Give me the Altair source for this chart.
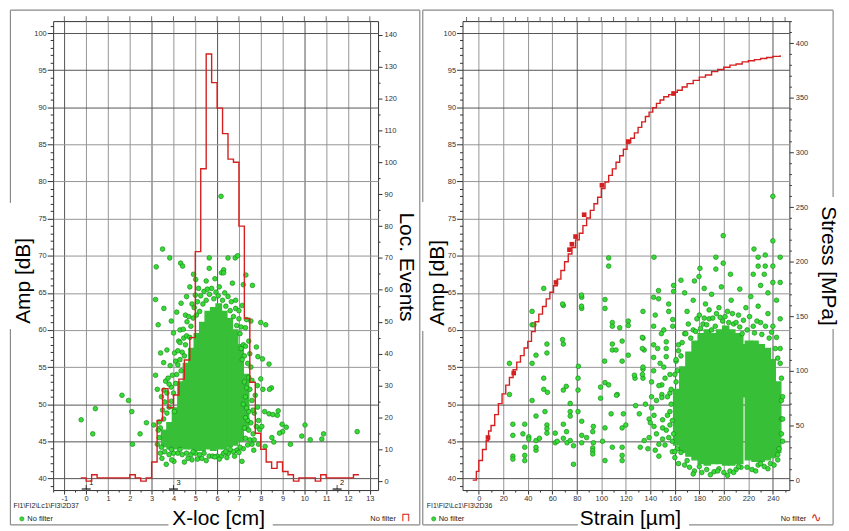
import altair as alt
import pandas as pd

FONT = "Liberation Sans"
GREEN_FILL = "#36dc36"
GREEN_EDGE = "#1b8a1b"
GREEN_CORE = "#38bf38"
RED = "#d42020"
FRAME = "#8a8a8a"

# ---------------- Left panel: located events histogram (Loc. Events vs X-loc) ----------------
loc_bin_x = [-0.25, 0.0, 0.25, 0.5, 0.75, 1.0, 1.25, 1.5, 1.75, 2.0, 2.25, 2.5, 2.75,
             3.0, 3.25, 3.5, 3.75, 4.0, 4.25, 4.5, 4.75, 5.0, 5.25, 5.5, 5.75, 6.0,
             6.25, 6.5, 6.75, 7.0, 7.25, 7.5, 7.75, 8.0, 8.25, 8.5, 8.75, 9.0, 9.25,
             9.5, 9.75, 10.0, 10.25, 10.5, 10.75, 11.0, 11.25, 11.5, 11.75, 12.0, 12.25, 12.5]
loc_events = [1, 0, 2, 1, 1, 1, 1, 1, 1, 2, 1, 0, 1,
              6, 19, 29, 23, 27, 32, 38, 45, 72, 98, 134, 125, 117,
              109, 101, 100, 80, 51, 31, 15, 10, 6, 4, 6, 3, 2,
              0, 1, 1, 1, 0, 2, 1, 1, 1, 1, 1, 2, 2]

# dense core of the left cloud (column start, column end, amp low, amp high)
left_core_x0 = [3.45, 3.70, 3.95, 4.20, 4.45, 4.70, 4.95, 5.20, 5.45, 5.70, 5.95, 6.20, 6.45, 6.70, 6.95, 7.20]
left_core_x1 = [3.70, 3.95, 4.20, 4.45, 4.70, 4.95, 5.20, 5.45, 5.70, 5.95, 6.20, 6.45, 6.70, 6.95, 7.20, 7.45]
left_core_lo = [44.3, 44.0, 44.0, 44.2, 44.0, 44.0, 43.8, 43.8, 44.0, 43.8, 44.0, 44.0, 44.3, 44.5, 45.0, 46.5]
left_core_hi = [46.5, 47.5, 49.5, 53.0, 55.5, 57.5, 59.5, 61.0, 62.5, 63.0, 63.5, 62.5, 61.5, 60.0, 58.0, 54.0]

# individual hits (x-loc cm, amplitude dB)
left_points = [
    (-0.23, 47.9), (0.30, 46.0), (0.42, 49.4), (1.64, 51.2), (1.94, 50.5), (2.09, 49.0), (2.12, 44.6),
    (2.47, 46.0), (2.76, 47.5), (3.10, 47.2), (6.18, 78.0), (3.50, 70.9), (3.83, 69.7), (4.33, 69.0),
    (4.42, 68.6), (3.21, 68.5), (5.64, 69.7), (6.50, 69.7), (6.83, 69.7), (6.94, 70.0), (5.64, 68.3),
    (6.30, 68.1), (3.18, 64.1), (3.56, 62.9), (3.30, 60.7), (3.41, 56.9), (3.18, 53.9), (3.64, 53.1),
    (3.26, 52.0), (3.56, 51.9), (4.92, 67.5), (5.02, 66.8), (6.20, 67.7), (6.30, 67.7), (7.32, 67.4),
    (7.20, 66.1), (7.62, 66.0), (5.50, 66.6), (5.90, 66.9), (6.70, 66.3), (8.00, 61.0), (8.23, 60.7),
    (7.35, 61.4), (7.80, 57.7), (8.08, 56.1), (7.87, 56.4), (8.38, 55.4), (8.00, 53.4), (8.49, 52.2),
    (8.10, 52.0), (8.40, 52.0), (8.18, 49.0), (8.38, 48.7), (8.56, 48.6), (8.76, 48.5), (8.80, 49.1),
    (8.98, 47.3), (9.17, 46.9), (9.00, 46.3), (8.51, 45.5), (8.86, 46.1), (9.36, 44.6), (10.03, 47.2),
    (9.88, 45.7), (10.27, 45.2), (10.80, 45.3), (10.88, 46.0), (12.42, 46.3), (8.20, 44.3), (8.60, 44.9),
    (7.14, 42.3), (4.85, 42.5), (4.67, 42.7), (4.02, 42.3), (3.67, 41.9), (3.47, 42.7), (3.92, 42.5),
    (3.26, 44.6), (5.64, 43.0), (5.80, 43.0), (6.00, 43.0), (6.20, 43.0), (6.30, 43.4), (6.52, 43.4),
    (7.68, 43.8), (7.60, 44.6), (4.62, 61.1), (4.24, 58.5), (4.47, 58.9), (3.90, 52.3), (4.10, 55.8),
    (3.75, 53.5), (4.30, 60.0),
    (3.35, 45.5), (3.40, 46.8), (3.45, 44.2), (3.55, 48.0), (3.70, 48.8), (3.80, 49.6), (3.90, 50.4),
    (4.00, 51.5), (4.05, 49.0), (4.10, 52.8), (4.15, 54.0), (4.20, 55.3), (4.30, 56.0), (4.35, 54.5),
    (4.40, 57.0), (4.50, 56.5), (4.55, 58.0), (4.60, 59.2), (4.75, 59.0), (4.80, 60.5), (4.90, 61.6),
    (4.95, 63.0), (5.05, 62.0), (5.10, 63.8), (5.20, 62.5), (5.25, 64.6), (5.35, 63.5), (5.40, 65.2),
    (5.50, 64.0), (5.55, 65.5), (5.65, 64.8), (5.75, 65.6), (5.85, 64.2), (5.95, 65.1), (6.05, 64.6),
    (6.10, 65.8), (6.25, 64.0), (6.35, 65.0), (6.40, 63.2), (6.50, 64.5), (6.60, 62.6), (6.65, 63.8),
    (6.75, 61.8), (6.85, 62.9), (6.90, 60.6), (7.00, 61.5), (7.05, 59.5), (7.10, 60.4), (7.20, 58.0),
    (7.25, 56.5), (7.30, 57.8), (7.40, 55.5), (7.45, 53.6), (7.50, 52.0), (7.55, 55.0), (7.60, 50.5),
    (7.45, 49.0), (7.55, 47.5), (7.65, 46.0), (7.70, 48.8), (7.75, 51.2), (7.85, 49.6), (7.90, 47.8),
    (7.95, 46.6), (8.05, 47.0), (7.50, 45.2), (7.40, 44.5), (7.30, 45.4), (7.20, 44.0), (7.05, 44.2),
    (6.90, 43.8), (6.75, 43.6), (6.60, 43.9), (6.40, 43.6), (5.40, 43.4), (5.20, 43.2), (5.00, 43.4),
    (4.80, 43.2), (4.60, 43.4), (4.40, 43.2), (4.20, 43.4), (4.00, 43.4), (3.80, 43.2), (3.60, 43.6),
    (3.40, 43.4),
    (7.25, 53.0), (7.30, 51.0), (7.35, 49.5), (7.40, 47.8), (7.45, 46.5), (7.30, 48.2), (7.20, 50.0),
    (7.25, 46.8), (7.35, 52.2), (7.50, 56.8), (7.60, 53.2), (7.65, 49.2), (7.70, 45.2), (7.80, 47.0),
    (7.85, 52.5), (7.90, 44.6), (7.15, 56.0), (7.10, 57.5), (7.45, 58.5), (7.30, 60.3), (7.55, 61.2),
    (7.00, 62.6), (6.85, 64.0), (7.15, 63.3),
    (3.30, 46.5), (3.35, 47.6), (3.50, 49.2), (3.60, 50.3), (3.45, 51.0), (3.70, 51.5), (3.80, 52.7),
    (3.95, 53.9), (4.05, 56.9), (4.20, 57.2), (4.30, 58.3), (4.45, 60.1), (4.55, 62.0), (4.70, 61.8),
    (4.85, 63.5), (5.00, 64.7), (5.15, 65.6), (3.85, 55.2), (3.55, 55.6), (3.70, 57.3), (4.00, 59.6),
    (3.90, 61.2), (4.15, 62.4), (4.35, 63.6), (4.60, 64.5), (4.75, 65.8),
    (3.90, 43.9), (4.30, 43.9), (4.90, 43.6), (5.30, 42.7), (5.50, 42.4), (5.90, 42.9), (6.10, 42.6),
    (6.45, 42.8), (6.80, 43.0), (7.00, 43.5), (4.50, 42.2), (5.10, 42.6),
]

sensor_x = [0.0, 4.0, 11.5]
sensor_label = ["1", "3", "2"]

left_x_ticks = [-1, 0, 1, 2, 3, 4, 5, 6, 7, 8, 9, 10, 11, 12, 13]

# ---------------- Right panel: stress vs strain ----------------
curve_strain = [-5, -2, 0, 3, 6, 8, 10, 13, 16, 19, 22, 25, 28, 31, 34, 37, 40, 43, 46, 49, 52, 55,
                58, 61, 64, 67, 70, 73, 76, 79, 82, 85, 88, 91, 94, 97, 100, 103, 106, 109, 112,
                115, 118, 121, 124, 127, 130, 133, 136, 139, 142, 145, 148, 151, 155, 158, 162,
                166, 170, 175, 180, 185, 190, 195, 200, 205, 210, 215, 220, 225, 230, 235, 240, 246]
curve_stress = [0, 8, 18, 28, 36, 45, 50, 60, 70, 79, 87, 94, 101, 108, 114, 121, 127, 136, 145, 152,
                159, 166, 172, 178, 184, 192, 200, 207, 213, 220, 226, 233, 240, 247, 253, 259, 267,
                273, 279, 285, 291, 297, 303, 309, 313, 318, 323, 328, 333, 337, 341, 345, 348, 351,
                353, 355, 357, 360, 363, 366, 369, 371, 374, 376, 378, 380, 381, 383, 384, 385, 386,
                387, 388, 389]
blob_strain = [7.5, 28.5, 63, 74, 76, 79, 86, 100.5, 122, 159]
blob_stress = [39, 98, 181, 211, 216, 223, 243, 270, 310, 354]

right_core_x0 = [159, 164, 169, 174, 179, 184, 189, 194, 199, 204, 209, 215.5, 217.5, 223, 228, 233, 238, 242]
right_core_x1 = [164, 169, 174, 179, 184, 189, 194, 199, 204, 209, 215.5, 217.5, 223, 228, 233, 238, 242, 246.5]
right_core_lo = [44.5, 43.5, 43.0, 42.5, 42.0, 41.8, 42.0, 42.0, 41.8, 41.8, 42.0, 51.0, 42.5, 42.3, 42.3, 42.5, 42.8, 43.5]
right_core_hi = [52.0, 55.0, 57.0, 58.5, 59.5, 60.0, 59.5, 60.0, 60.5, 60.0, 59.5, 58.0, 58.5, 58.5, 58.0, 57.5, 56.0, 53.0]

right_points = [
    (106, 69.7), (106, 68.6), (53, 65.6), (84, 64.4), (84, 62.9), (103, 64.1), (103, 62.9), (69, 63.3),
    (43.5, 62.5), (134, 62.5), (43.5, 60.7), (45, 60.7), (109, 61.0), (109, 60.5), (122, 61.2), (122, 60.6),
    (134, 58.9), (55.6, 58.1), (55.6, 56.9), (69, 58.1), (109, 58.1), (109, 57.3), (112, 57.3), (117, 58.5),
    (135, 57.3), (46.7, 56.6), (25, 55.5), (43.5, 55.5), (102.7, 55.8), (117, 55.8), (122, 56.6), (81.3, 55.1),
    (53, 53.5), (81, 53.5), (127.5, 53.5), (134, 53.5), (134, 54.7), (25, 51.3), (53, 52.0), (56, 51.6),
    (69, 51.9), (81, 51.9), (99.4, 52.3), (99.4, 50.8), (103, 52.9), (106, 52.6), (113, 51.3), (43.5, 50.5),
    (74.6, 50.1), (74.6, 49.0), (74.6, 48.4), (54, 49.0), (81, 49.0), (108, 48.7), (118, 48.7), (128, 49.8),
    (131, 48.7), (27.8, 47.3), (37.5, 47.3), (27.8, 45.8), (46.7, 48.4), (55.6, 47.2), (55.6, 46.7),
    (55.6, 46.1), (62.4, 46.1), (69, 47.3), (71.6, 46.3), (84, 47.7), (93.5, 47.0), (93, 46.3), (103, 46.8),
    (117, 46.8), (120, 47.2), (40.8, 45.6), (40.8, 45.3), (46.7, 45.1), (49.5, 45.4), (46.7, 43.8),
    (62.4, 44.8), (69, 45.4), (72, 44.8), (74.6, 45.1), (77.3, 44.4), (84, 44.8), (84, 45.8), (93.5, 44.8),
    (93, 44.1), (93, 43.7), (93, 43.3), (37.5, 44.2), (37.5, 43.1), (37.5, 42.4), (27.8, 43.0), (27.8, 42.6),
    (46.7, 44.2), (77.3, 41.9), (103, 42.4), (109, 44.2), (117, 44.2), (117, 43.1), (117, 42.4), (131.8, 44.2),
    (135, 45.1), (88, 45.5), (64, 45.0), (101, 45.0), (36, 46.0), (115, 60.3), (112.4, 51.2), (127, 53.9),
    (71.4, 52.4), (83.8, 64.7), (83.8, 63.2), (68.4, 63.5), (68.4, 58.7),
    (142.7, 64.4), (146.7, 65.3), (155, 63.5), (155, 62.5), (158.3, 61.4), (158.3, 60.5), (153, 58.4),
    (153, 57.5), (153, 56.4), (149.4, 52.6), (149.4, 51.3), (149.4, 50.9), (150, 47.9), (150, 46.8),
    (150, 45.3), (143, 69.8), (146.8, 64.2), (133.5, 59.0), (133.5, 57.5), (134, 55.0), (133.5, 54.0),
    (142.7, 60.5), (142.7, 58.0), (142.7, 56.3), (142.7, 54.5), (141, 53.0), (141, 51.0), (141, 49.5),
    (143, 48.5), (143, 47.0), (145, 46.0), (139, 45.5), (147, 44.6), (147, 43.0), (144, 43.8), (151, 60.0),
    (151, 55.0), (156, 54.0), (156, 51.5), (156, 49.0), (156, 47.2), (158, 45.0), (158, 43.6), (145, 50.5),
    (147, 52.5), (139, 48.0), (136, 50.0), (152, 53.5), (154, 48.5), (152, 44.5), (148, 55.5), (146, 57.5),
    (149, 59.5), (144, 62.0), (140, 47.5), (138, 44.0),
    (240, 78.0), (199.5, 72.7), (240, 72.0), (224.6, 70.9), (233.8, 70.1), (193.5, 69.8), (228, 69.8),
    (246, 69.8), (199.5, 69.0), (228, 68.6), (233.8, 68.6), (240, 68.6), (180.5, 68.3), (193.5, 68.2),
    (179.7, 67.2), (205.4, 67.5), (224, 67.5), (233, 67.5), (240, 66.4), (246, 66.4), (159, 65.2),
    (165, 66.7), (176, 66.6), (184, 65.6), (168, 65.0), (159, 66.0), (230, 66.0), (236, 65.0), (213, 65.5),
    (198, 65.8), (190, 64.8), (185, 63.5), (175, 64.0), (206, 64.0), (222, 64.5), (243, 64.0), (228, 63.2),
    (196, 63.0), (170, 62.5), (180, 62.0), (188, 61.5), (203, 62.5), (212, 62.0), (218, 63.0), (236, 62.2),
    (246, 61.5), (240, 60.5), (230, 61.0), (224, 60.5), (208, 60.8), (199, 61.2), (193, 60.5), (183, 60.8),
    (175, 60.0), (168, 59.5), (163, 58.0), (165, 56.5), (162, 54.5), (161, 53.0), (190, 60.0), (215, 59.5),
    (243, 59.0), (246, 57.5), (246, 55.5), (247, 53.5), (247, 50.5), (247, 48.0), (247, 46.0), (245, 44.0),
    (244, 42.5), (160, 42.8), (163, 42.0), (168, 41.8), (172, 41.5), (176, 41.0), (182, 40.8), (186, 41.2),
    (192, 40.9), (196, 41.3), (200, 40.8), (205, 41.0), (210, 41.2), (214, 41.5), (219, 41.5), (223, 41.2),
    (228, 41.8), (233, 41.6), (238, 42.0), (241, 41.8), (175, 40.6), (189, 40.5), (203, 40.4), (208, 40.8),
    (226, 41.0), (165, 43.5), (162, 44.0),
    (161, 55.8), (163, 57.2), (166, 58.3), (169, 59.5), (171, 60.8), (173, 58.9), (177, 59.8), (178, 61.5),
    (181, 60.2), (184, 61.6), (186, 60.7), (188, 62.7), (191, 61.6), (194, 62.2), (197, 61.7), (201, 61.8),
    (204, 61.0), (207, 62.2), (210, 61.0), (213, 60.4), (216, 61.3), (219, 60.0), (221, 61.8), (225, 59.6),
    (227, 61.2), (231, 59.4), (234, 60.5), (237, 58.9), (239, 59.7), (242, 57.5), (244, 56.2), (248, 51.0),
    (248, 48.0), (248, 45.0),
    (157, 52.0), (157, 50.0), (158, 47.8), (159, 46.0), (160, 54.0), (161, 56.0), (155, 45.5), (153, 46.5),
    (154, 51.0), (160, 43.6),
    (170, 42.4), (180, 41.6), (195, 41.0), (212, 41.6), (230, 42.0), (236, 41.3), (244, 43.2),
]

right_x_ticks = [-10, 0, 10, 20, 30, 40, 50, 60, 70, 80, 90, 100, 110, 120, 130, 140, 150, 160, 170,
                 180, 190, 200, 210, 220, 230, 240, 250]

# ---------------- helpers ----------------
ONE = alt.Data(values=[{"k": 0}])
AMP_DOMAIN = [38.43, 101.61]
AMP_VALUES = list(range(39, 102))
W_L, W_R, H = 327, 329, 472
GRID_DARK, GRID_LIGHT = "#555555", "#959595"


def cond(test, a, b):
    return {"condition": {"test": test, "value": a}, "value": b}


def amp_axis(tx, ty):
    return alt.Axis(
        values=AMP_VALUES, labelExpr="datum.value % 5 === 0 ? '' + datum.value : ''",
        labelFont=FONT, labelFontSize=7.5, labelColor="#333", labelPadding=1,
        labelOverlap=False, labelFlush=False, domain=False,
        tickColor="#333", tickSize=cond("datum.value % 5 === 0", 6, 3),
        grid=True, gridOpacity=cond("datum.value % 5 === 0", 1, 0),
        gridColor=cond("indexof([40,45,50,90,95,100], datum.value) >= 0", GRID_DARK, GRID_LIGHT),
        title="Amp [dB]", titleFont=FONT, titleFontSize=21, titleFontWeight="normal",
        titleColor="#000", titleX=tx, titleY=ty, titleAngle=270, titleAlign="center",
        titleBaseline="middle")


def right_axis(values, step, title, tx, ty):
    return alt.Axis(
        orient="right", values=values,
        labelExpr=f"datum.value % {step} === 0 ? '' + datum.value : ''",
        labelFont=FONT, labelFontSize=7.5, labelColor="#333", labelPadding=2,
        labelOverlap=False, labelFlush=False, domain=False, grid=False,
        tickColor="#333", tickSize=cond(f"datum.value % {step} === 0", 4, 2),
        title=title, titleFont=FONT, titleFontSize=21, titleFontWeight="normal",
        titleColor="#000", titleX=tx, titleY=ty, titleAngle=90, titleAlign="center",
        titleBaseline="middle")


def x_axis(values, step, dark, title, tx):
    return alt.Axis(
        values=values, labelExpr=f"datum.value % {step} === 0 ? '' + datum.value : ''",
        labelFont=FONT, labelFontSize=7.5, labelColor="#333", labelPadding=1,
        labelOverlap=False, labelFlush=False, domain=False,
        tickColor="#333", tickSize=cond(f"datum.value % {step} === 0", 4, 2),
        grid=True, gridOpacity=cond(f"datum.value % {step} === 0", 1, 0),
        gridColor=cond(f"indexof({dark}, datum.value) >= 0", GRID_DARK, GRID_LIGHT),
        title=title, titleFont=FONT, titleFontSize=21, titleFontWeight="normal",
        titleColor="#000", titleX=tx, titleY=29, titleAngle=0, titleAlign="center",
        titleBaseline="middle")


def hrule(x1, x2, y):
    return alt.Chart(ONE).mark_rule(color=FRAME, strokeWidth=1.2).encode(
        x=alt.value(x1), x2=alt.value(x2), y=alt.value(y))


def vrule(x, y1, y2):
    return alt.Chart(ONE).mark_rule(color=FRAME, strokeWidth=1.2).encode(
        x=alt.value(x), y=alt.value(y1), y2=alt.value(y2))


def label(txt, x, y, size=7.5, align="left", color="#222", font=FONT):
    return alt.Chart(ONE).mark_text(align=align, baseline="middle", fontSize=size,
                                    font=font, color=color).encode(
        x=alt.value(x), y=alt.value(y), text=alt.value(txt))


def legend_dot(x, y):
    return alt.Chart(ONE).mark_point(filled=True, fill=GREEN_FILL, stroke=GREEN_EDGE,
                                     strokeWidth=0.6, size=18, opacity=1).encode(
        x=alt.value(x), y=alt.value(y))


# ---------------- left panel ----------------
LX_DOMAIN = [-1.514, 13.377]
LX_VALUES = [v / 2 for v in range(-3, 27)]
lx_axis = x_axis(LX_VALUES, 1, "[-1,3,6,10,13]", "X-loc [cm]", 166)
l_amp_axis = amp_axis(-30, 261)


def LX(field):
    return alt.X(field, type="quantitative", scale=alt.Scale(domain=LX_DOMAIN, nice=False, zero=False), axis=lx_axis)


def LY(field):
    return alt.Y(field, type="quantitative", scale=alt.Scale(domain=AMP_DOMAIN, nice=False, zero=False), axis=l_amp_axis)


lcore = pd.DataFrame({"x0": left_core_x0, "x1": left_core_x1, "lo": left_core_lo, "hi": left_core_hi})
lpts = pd.DataFrame(left_points, columns=["xloc", "amp"])
lhist = pd.DataFrame({"xloc": loc_bin_x, "events": loc_events})
lsens = pd.DataFrame({"xloc": sensor_x, "lab": sensor_label})
ltop = pd.DataFrame({"xloc": left_x_ticks})

l_core = alt.Chart(lcore).mark_rect(color=GREEN_CORE, stroke=GREEN_CORE, strokeWidth=1.4).encode(
    x=LX("x0"), x2="x1", y=LY("lo"), y2="hi")
l_pts = alt.Chart(lpts).mark_point(filled=True, fill=GREEN_FILL, stroke=GREEN_EDGE, strokeWidth=0.7,
                                   size=22, opacity=1).encode(x=LX("xloc"), y=LY("amp"))
l_top = alt.Chart(ltop).mark_tick(color="#333", size=5, thickness=1).encode(x=LX("xloc"), y=alt.value(-2.5))
l_sens_bar = alt.Chart(lsens).mark_tick(orient="horizontal", color="#000", size=9, thickness=1.6).encode(
    x=LX("xloc"), y=alt.value(471))
l_sens_stub = alt.Chart(lsens).mark_tick(color="#000", size=4, thickness=1).encode(
    x=LX("xloc"), y=alt.value(469))
l_sens_txt = alt.Chart(lsens).mark_text(align="left", baseline="middle", dx=3, fontSize=7.5, font=FONT,
                                        color="#111").encode(x=LX("xloc"), y=alt.value(465), text="lab:N")

left_decor = [
    hrule(-43, 369, -11), vrule(-43, -11, 183), vrule(-43, 310, 507),
    hrule(-43, 116, 507), hrule(221, 369, 507), vrule(369, -11, 507),
    label("FI1\\FI2\\Lc1\\FI3\\2D37", -40, 488, size=7),
    legend_dot(-31.5, 501), label("No filter", -26, 501),
    label("No filter", 345, 501, align="right"),
    label("\u2293", 355, 499.5, size=12, align="center", color=RED, font="DejaVu Sans"),
]

left_amp_layer = alt.layer(l_core, l_pts, l_top, l_sens_bar, l_sens_stub, l_sens_txt, *left_decor)
l_line = alt.Chart(lhist).mark_line(interpolate="step-after", color=RED, strokeWidth=1.4).encode(
    x=LX("xloc"),
    y=alt.Y("events:Q", scale=alt.Scale(domain=[-2.81, 144.3], nice=False, zero=False),
            axis=right_axis(list(range(0, 145, 5)), 10, "Loc. Events", 27.5, 247)))
left = alt.layer(left_amp_layer, l_line).resolve_scale(y="independent").properties(width=W_L, height=H)

# ---------------- right panel ----------------
RX_DOMAIN = [-13.3, 253.5]
rx_axis = x_axis(right_x_ticks, 20, "[80,160,240]", "Strain [\u00b5m]", 168.5)
r_amp_axis = amp_axis(-25.5, 263)


def RX(field):
    return alt.X(field, type="quantitative", scale=alt.Scale(domain=RX_DOMAIN, nice=False, zero=False), axis=rx_axis)


def RY(field):
    return alt.Y(field, type="quantitative", scale=alt.Scale(domain=AMP_DOMAIN, nice=False, zero=False), axis=r_amp_axis)


rcore = pd.DataFrame({"x0": right_core_x0, "x1": right_core_x1, "lo": right_core_lo, "hi": right_core_hi})
rpts = pd.DataFrame(right_points, columns=["strain", "amp"])
rcurve = pd.DataFrame({"strain": curve_strain, "stress": curve_stress})
rblob = pd.DataFrame({"strain": blob_strain, "stress": blob_stress})
rtop = pd.DataFrame({"strain": right_x_ticks})

r_core = alt.Chart(rcore).mark_rect(color=GREEN_CORE, stroke=GREEN_CORE, strokeWidth=1.4).encode(
    x=RX("x0"), x2="x1", y=RY("lo"), y2="hi")
r_pts = alt.Chart(rpts).mark_point(filled=True, fill=GREEN_FILL, stroke=GREEN_EDGE, strokeWidth=0.7,
                                   size=22, opacity=1).encode(x=RX("strain"), y=RY("amp"))
r_top = alt.Chart(rtop).mark_tick(color="#333", size=4, thickness=1).encode(x=RX("strain"), y=alt.value(-2))

right_decor = [
    hrule(-40, 373, -11), vrule(-40, -11, 182), vrule(-40, 312, 507),
    hrule(-40, 116, 507), hrule(228, 373, 507), vrule(373, -11, 177), vrule(373, 310, 507),
    label("FI1\\FI2\\Lc1\\FI3\\2D36", -36, 488, size=7),
    legend_dot(-29, 501), label("No filter", -24, 501),
    label("No filter", 346, 501, align="right"),
    label("\u223f", 356, 500, size=13, align="center", color=RED, font="DejaVu Sans"),
]

right_amp_layer = alt.layer(r_core, r_pts, r_top, *right_decor)
STRESS_SCALE = alt.Scale(domain=[-9.1, 420.3], nice=False, zero=False)
stress_axis = right_axis(list(range(0, 421, 10)), 50, "Stress [MPa]", 38, 246)
r_line = alt.Chart(rcurve).mark_line(interpolate="step-after", color=RED, strokeWidth=1.4).encode(
    x=RX("strain"), y=alt.Y("stress:Q", scale=STRESS_SCALE, axis=stress_axis))
r_blob = alt.Chart(rblob).mark_square(color=RED, size=22, opacity=1).encode(
    x=RX("strain"), y=alt.Y("stress:Q", scale=STRESS_SCALE, axis=stress_axis))
right = alt.layer(right_amp_layer, alt.layer(r_line, r_blob)).resolve_scale(y="independent").properties(
    width=W_R, height=H)

chart = alt.HConcatChart(
    hconcat=[left, right], spacing=85, bounds="flush",
    padding={"left": 8.5, "top": 6.5, "right": 10, "bottom": 4},
    background="white",
).configure_view(stroke="#333", strokeWidth=1)

chart.save("out.html", embed_options={"renderer": "svg", "actions": False})
